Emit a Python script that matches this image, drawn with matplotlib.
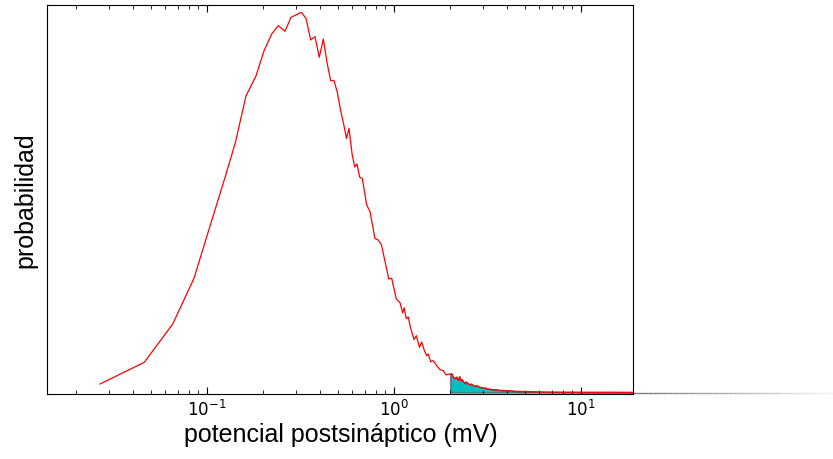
import numpy as np
import matplotlib.pyplot as plt
from matplotlib.collections import LineCollection

# histogram of postsynaptic potential (arbitrary probability units)
psp_mv = [0.0268, 0.0462, 0.0656, 0.0852, 0.1045, 0.1239, 0.1421, 0.1616, 0.1828,
          0.2017, 0.2218, 0.2406, 0.2613, 0.2813, 0.2992, 0.3189, 0.3384, 0.3585,
          0.3780, 0.3986, 0.4187, 0.4399, 0.4587, 0.4778, 0.4976, 0.5189, 0.5357,
          0.5573, 0.5747, 0.5978, 0.6172, 0.6342, 0.6556, 0.6770, 0.7145, 0.7441,
          0.7912, 0.8240, 0.8572, 0.9380, 0.9721, 1.0287, 1.0767, 1.1130, 1.1337,
          1.1635, 1.1925, 1.2253, 1.2791, 1.3158, 1.3686, 1.4062, 1.4520, 1.4955,
          1.5253, 1.5711, 1.6223, 1.6916, 1.7620, 1.8350, 1.8970, 1.9515,
          2.000, 2.030, 2.068, 2.100, 2.133, 2.160, 2.186, 2.210, 2.240, 2.282,
          2.310, 2.348, 2.370, 2.398, 2.430, 2.458, 2.500, 2.550, 2.600, 2.655,
          2.700, 2.745, 2.800, 2.848, 2.930, 3.004, 3.090, 3.183, 3.290, 3.397,
          3.540, 3.688, 3.850, 4.006, 4.200, 4.437, 4.650, 4.896, 5.400, 6.036,
          6.800, 7.721, 9.000, 11.17, 14.00, 19.5]
prob = [8.5, 30.2, 68.5, 114.2, 168.2, 213.0, 250.5, 296.5, 316.5,
        341.5, 358.5, 366.8, 361.2, 375.2, 377.5, 380.2, 374.2, 352.5,
        355.8, 335.2, 353.5, 328.5, 311.8, 311.8, 300.2, 281.5, 270.2,
        254.0, 264.2, 237.5, 225.5, 228.5, 215.2, 214.0, 187.5, 181.0,
        154.0, 152.5, 147.5, 113.5, 114.2, 93.5, 89.8, 79.5, 84.7,
        73.8, 75.5, 65.0, 53.0, 56.8, 45.2, 50.5, 42.2, 36.8,
        38.5, 30.8, 31.8, 26.8, 22.8, 21.8, 17.5, 18.5,
        18.0, 19.0, 16.0, 14.0, 14.5, 15.5, 13.0, 12.5, 16.0, 12.0,
        13.0, 11.0, 10.0, 9.0, 10.5, 10.0, 8.5, 8.0, 8.5, 7.0,
        6.5, 6.5, 6.8, 5.5, 5.0, 4.5, 4.5, 3.5, 3.2, 2.8,
        2.8, 2.2, 2.0, 1.8, 1.8, 1.3, 1.1, 1.0, 0.9, 0.6,
        0.5, 0.4, 0.4, 0.25, 0.3, 0.15]
threshold = 2.0

x = np.array(psp_mv)
y = np.array(prob)

plt.rcParams['mathtext.fontset'] = 'cm'
fig = plt.figure(figsize=(8.33, 4.6), dpi=100)
ax = fig.add_axes([0.057, 0.1413, 0.7035, 0.8457])

ax.fill_between(x, 0, y, where=x >= threshold, facecolor='c',
                edgecolor='0.35', linewidth=0.8)
ax.plot(x, y, color='r', lw=0.9)

# faded baseline running out past the right spine
n = 40
xs = np.linspace(1.0, 1.341, n + 1)
segs = [[(xs[i], 0), (xs[i + 1], 0)] for i in range(n)]
greys = [(g, g, g) for g in np.linspace(0.45, 0.95, n)]
lc = LineCollection(segs, colors=greys, linewidths=1.0,
                    transform=ax.get_yaxis_transform(), clip_on=False)
ax.add_collection(lc)

ax.set_xscale('log')
ax.set_xlim(0.01403, 19.09)
ax.set_ylim(-1.5, 387.5)
ax.set_yticks([])
ax.tick_params(axis='x', which='both', direction='in', top=True, labelsize=12)
ax.tick_params(axis='x', which='major', length=5)
ax.tick_params(axis='x', which='minor', length=3)

ax.set_xlabel('potencial postsináptico (mV)', fontsize=18,
              family='Liberation Sans', labelpad=2)
ax.set_ylabel('probabilidad', fontsize=18, family='Liberation Sans', labelpad=7)

fig.savefig('out.png', dpi=100)
